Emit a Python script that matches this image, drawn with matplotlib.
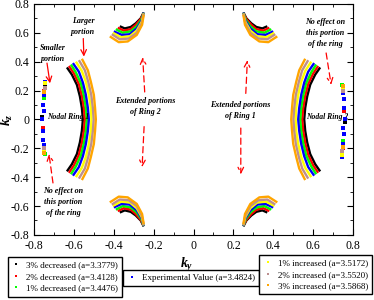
"""
Nodal rings of the band structure under lattice strain:
k_y - k_z cuts for a = 3.3779 ... 3.5868, compared with the experimental value.
"""

import numpy as np
import matplotlib.pyplot as plt
from matplotlib.lines import Line2D
from matplotlib.ticker import MultipleLocator

plt.rcParams['font.family'] = ['Liberation Serif', 'DejaVu Serif']
plt.rcParams['mathtext.fontset'] = 'custom'
plt.rcParams['mathtext.it'] = 'Liberation Serif:bold:italic'
plt.rcParams['mathtext.rm'] = 'Liberation Serif:bold'

# ─────────────────────────────────────────────
# Data (upper-left quadrant, the rest follows from mirror symmetry)
# ─────────────────────────────────────────────
series_labels = ['3% decreased (a=3.3779)', '2% decreased (a=3.4128)',
                 '1% decreased (a=3.4476)', 'Experimental Value (a=3.4824)',
                 '1% increased (a=3.5172)', '2% increased (a=3.5520)',
                 '3% increased (a=3.5868)']
series_colors = ['black', 'red', '#00ff00', 'blue', '#ffff00', '#bc8f8f', 'orange']

# big arc (Nodal Ring 1 main part), top end down to k_z = 0
big_ky = [[-0.635, -0.610, -0.585, -0.570, -0.560, -0.555],
          [-0.625, -0.600, -0.575, -0.560, -0.550, -0.545],
          [-0.615, -0.590, -0.565, -0.550, -0.540, -0.535],
          [-0.605, -0.575, -0.555, -0.540, -0.530, -0.525],
          [-0.590, -0.560, -0.540, -0.525, -0.515, -0.512],
          [-0.575, -0.545, -0.528, -0.513, -0.505, -0.501],
          [-0.560, -0.530, -0.515, -0.500, -0.494, -0.490]]
big_kz = [[0.360, 0.310, 0.240, 0.160, 0.080, 0.0],
          [0.370, 0.318, 0.245, 0.163, 0.080, 0.0],
          [0.380, 0.325, 0.250, 0.165, 0.080, 0.0],
          [0.390, 0.330, 0.255, 0.170, 0.080, 0.0],
          [0.400, 0.335, 0.260, 0.170, 0.080, 0.0],
          [0.410, 0.340, 0.260, 0.170, 0.080, 0.0],
          [0.420, 0.340, 0.260, 0.170, 0.080, 0.0]]

# small arc near (k_y, k_z) = (-0.3, 0.6), left end to the tip
arc_ky = [[-0.370, -0.345, -0.315, -0.290, -0.265, -0.250],
          [-0.380, -0.350, -0.315, -0.290, -0.265, -0.250],
          [-0.390, -0.355, -0.315, -0.285, -0.262, -0.250],
          [-0.400, -0.360, -0.320, -0.285, -0.260, -0.250],
          [-0.405, -0.365, -0.320, -0.285, -0.260, -0.250],
          [-0.410, -0.370, -0.325, -0.285, -0.260, -0.250],
          [-0.420, -0.375, -0.330, -0.285, -0.258, -0.250]]
arc_kz = [[0.645, 0.630, 0.640, 0.665, 0.700, 0.740],
          [0.635, 0.615, 0.625, 0.655, 0.695, 0.740],
          [0.625, 0.600, 0.610, 0.645, 0.690, 0.740],
          [0.610, 0.585, 0.590, 0.630, 0.685, 0.740],
          [0.600, 0.570, 0.575, 0.615, 0.675, 0.735],
          [0.590, 0.555, 0.560, 0.600, 0.665, 0.730],
          [0.575, 0.535, 0.540, 0.585, 0.655, 0.725]]

# smaller portion near k_y = -0.75 (scattered points of every series)
edge_ky = [[-0.745, -0.758, -0.750],
           [-0.748, -0.757],
           [-0.752, -0.747],
           [-0.743, -0.750, -0.755, -0.758, -0.757, -0.754, -0.750, -0.752],
           [-0.744, -0.752],
           [-0.746, -0.751],
           [-0.749, -0.748]]
edge_kz = [[0.240, 0.020, -0.200],
           [0.200, -0.060],
           [0.150, -0.240],
           [0.260, 0.170, 0.100, 0.000, -0.080, -0.140, -0.180, 0.060],
           [0.250, -0.220],
           [0.220, -0.200],
           [0.190, -0.230]]


def full_rings(ky, kz):
    """Mirror a top-half arc into the bottom half, then both into k_y > 0."""
    ky, kz = np.asarray(ky), np.asarray(kz)
    left_y = np.concatenate([ky, ky[::-1][1:]])
    left_z = np.concatenate([kz, -kz[::-1][1:]])
    return [(left_y, left_z), (-left_y, left_z)]


def quadrants(ky, kz):
    ky, kz = np.asarray(ky), np.asarray(kz)
    return [(ky, kz), (ky, -kz), (-ky, kz), (-ky, -kz)]


fig = plt.figure(figsize=(3.74, 3.0), dpi=100)
ax = fig.add_axes([0.091, 0.217, 0.853, 0.77])

for i, color in enumerate(series_colors):
    for y, z in full_rings(big_ky[i], big_kz[i]):
        ax.plot(y, z, color=color, lw=1.7, solid_capstyle='butt', zorder=3)
    for y, z in quadrants(arc_ky[i], arc_kz[i]):
        ax.plot(y, z, color=color, lw=1.7, solid_capstyle='butt', zorder=3)
    ey, ez = np.asarray(edge_ky[i]), np.asarray(edge_kz[i])
    for y, z in [(ey, ez), (-ey, -ez)]:
        ax.plot(y, z, ls='none', marker='s', ms=2.2, mew=0, color=color, zorder=4)

ax.set_xlim(-0.8, 0.8)
ax.set_ylim(-0.8, 0.8)
ax.xaxis.set_minor_locator(MultipleLocator(0.1))
ax.yaxis.set_minor_locator(MultipleLocator(0.1))
ax.tick_params(which='both', direction='in', top=True, right=True, labelsize=8.5)
ax.tick_params(which='major', length=4)
ax.tick_params(which='minor', length=2.5)
tick_pos = np.arange(-0.8, 0.81, 0.2)
tick_txt = ['-0.8', '-0.6', '-0.4', '-0.2', '0', '0.2', '0.4', '0.6', '0.8']
ax.set_xticks(tick_pos)
ax.set_xticklabels(tick_txt)
ax.set_yticks(tick_pos)
ax.set_yticklabels(tick_txt)
ax.set_ylabel(r'$k_z$', fontsize=10)
ax.yaxis.set_label_coords(-0.06, 0.5)
fig.text(0.5, 0.117, r'$k_y$', fontsize=10, ha='center', va='center')

# ─── annotations ──────────────────────────────
note = dict(fontsize=5.8, fontweight='bold', fontstyle='italic', ha='center', va='center',
            linespacing=1.5)
solid = dict(arrowstyle='->', color='red', lw=0.9, shrinkA=0, shrinkB=0)
dashed = dict(arrowstyle='->', color='red', lw=0.9, ls=(0, (5, 3)), shrinkA=0, shrinkB=0)

ax.text(-0.705, 0.455, 'Smaller\nportion', **note)
ax.annotate('', xy=(-0.72, 0.25), xytext=(-0.735, 0.39), arrowprops=solid)
ax.text(-0.555, 0.64, 'Larger\nportion', **note)
ax.annotate('', xy=(-0.55, 0.435), xytext=(-0.553, 0.56), arrowprops=solid)

ax.text(-0.243, 0.09, 'Extended portions\nof Ring 2', **note)
ax.annotate('', xy=(-0.255, 0.43), xytext=(-0.245, 0.19), arrowprops=dashed)
ax.annotate('', xy=(-0.258, -0.33), xytext=(-0.248, -0.05), arrowprops=dashed)

ax.text(0.233, 0.065, 'Extended portions\nof Ring 1', **note)
ax.annotate('', xy=(0.27, 0.41), xytext=(0.262, 0.18), arrowprops=dashed)
ax.annotate('', xy=(0.237, -0.38), xytext=(0.237, -0.06), arrowprops=dashed)

ax.text(0.66, 0.6, 'No effect on\nthis portion\nof the ring', **note)
ax.annotate('', xy=(0.69, 0.24), xytext=(0.665, 0.46), arrowprops=dashed)
ax.text(-0.655, -0.575, 'No effect on\nthis portion\nof the ring', **note)
ax.annotate('', xy=(-0.725, -0.24), xytext=(-0.705, -0.44), arrowprops=dashed)

ax.text(-0.737, 0.015, 'Nodal Ring 1', fontsize=5.5, fontweight='bold',
        fontstyle='italic', ha='left', va='center')
ax.text(0.565, 0.015, 'Nodal Ring 2', fontsize=5.5, fontweight='bold',
        fontstyle='italic', ha='left', va='center')

# ─── legends ──────────────────────────────────
handles = [Line2D([], [], ls='none', marker='s', ms=2, mew=0, color=c)
           for c in series_colors]
leg_kw = dict(fontsize=6.5, fancybox=False, edgecolor='black', framealpha=1,
              handlelength=1.0, handletextpad=0.6, labelspacing=0.35,
              borderpad=0.45, borderaxespad=0)
fig.legend(handles[:3], series_labels[:3], loc='upper left',
           bbox_to_anchor=(0.021, 0.143), **leg_kw)
fig.legend(handles[3:4], series_labels[3:4], loc='center',
           bbox_to_anchor=(0.511, 0.073), **leg_kw)
fig.legend(handles[4:], series_labels[4:], loc='upper right',
           bbox_to_anchor=(0.995, 0.15), **leg_kw)

plt.savefig('out.png', dpi=100)
